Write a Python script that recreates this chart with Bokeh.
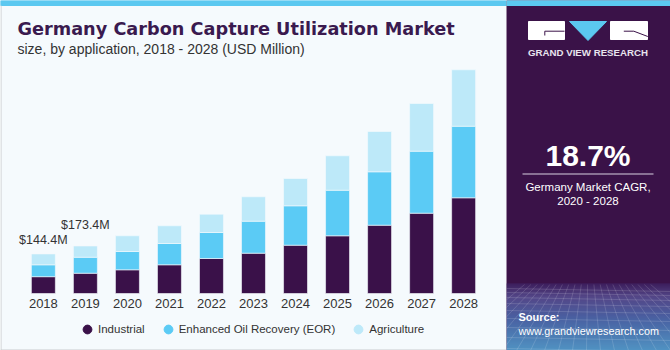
from bokeh.plotting import figure
from bokeh.layouts import row
from bokeh.models import (ColumnDataSource, FactorRange, Range1d, Legend, LegendItem,
                          LinearScale)
from bokeh.core.properties import value
from bokeh.embed import file_html
from bokeh.resources import INLINE

# ---------------- data ----------------
years = ["2018", "2019", "2020", "2021", "2022", "2023", "2024", "2025", "2026", "2027", "2028"]
industrial = [61.4, 74.0, 86.5, 104.8, 127.8, 147.1, 176.3, 210.6, 249.3, 293.1, 349.3]
eor = [43.3, 58.4, 66.8, 77.7, 94.9, 116.8, 143.8, 166.4, 194.9, 226.3, 261.3]
agriculture = [39.7, 41.0, 57.3, 64.6, 66.8, 89.1, 99.6, 125.6, 147.1, 174.1, 205.9]
series_labels = ["Industrial", "Enhanced Oil Recovery (EOR)", "Agriculture"]
label_years = ["2018", "2019"]
label_values = [144.4, 173.4]
cagr_text = "18.7%"
cagr_caption = ["Germany Market CAGR,", "2020 - 2028"]
title_text = "Germany Carbon Capture Utilization Market"
subtitle_text = "size, by application, 2018 - 2028 (USD Million)"

# ---------------- styles ----------------
COLORS = ["#3A1149", "#5BCBF5", "#BDE9F9"]
BG = "#F5FAFD"
PANEL = "#3A1248"
STRIPE = "#5BC8F0"
FONT = "Liberation Sans"
LEFT_W, RIGHT_W, H = 506, 164, 350
UNITS_PER_PX = 3.65
BASE_PX = 293  # baseline from top
PAD = 0.52     # categorical padding on each side (factor units)


def sx(px):
    """pixel position from the left edge -> synthetic categorical coordinate"""
    return px * (len(years) + 2 * PAD) / LEFT_W - PAD


# ---------------- left chart ----------------
p = figure(width=LEFT_W, height=H,
           x_range=FactorRange(*years, range_padding=PAD, range_padding_units="absolute"),
           y_range=Range1d(-(H - BASE_PX) * UNITS_PER_PX, BASE_PX * UNITS_PER_PX),
           output_backend="svg", toolbar_location=None,
           x_axis_location=None, y_axis_location=None,
           min_border=0, background_fill_color=BG, border_fill_color=BG,
           outline_line_color=None)
p.grid.visible = False
p.extra_y_ranges = {"px": Range1d(H, 0)}
p.extra_y_scales = {"px": LinearScale()}

src = ColumnDataSource(dict(year=years, industrial=industrial, eor=eor, agriculture=agriculture))
p.vbar_stack(["industrial", "eor", "agriculture"], x="year", width=0.57, color=COLORS,
             line_color=BG, line_width=0.6, source=src)

# year labels under bars
p.text(x=years, y=[0] * len(years), text=years, y_offset=9.8,
       text_align="center", text_baseline="middle",
       text_font=value(FONT), text_font_size="13px", text_color="#333333")

# value callouts
lab_src = ColumnDataSource(dict(x=label_years, y=label_values,
                                text=["$%.1fM" % v for v in label_values],
                                off=[-14.2, -21.3]))
p.text(x="x", y="y", text="text", y_offset="off", source=lab_src,
       text_align="center", text_baseline="middle",
       text_font=value(FONT), text_font_size="12.5px", text_color="#333333")

# top stripe and border
p.quad(left=[sx(0)], right=[sx(LEFT_W)], top=[0], bottom=[5], color=STRIPE,
       y_range_name="px")
p.segment(x0=[sx(0.5), sx(0)], y0=[5, H - 0.5], x1=[sx(0.5), sx(LEFT_W)], y1=[H, H - 0.5],
          line_color="#C9CCCE", line_width=1, y_range_name="px")

# titles
p.text(x=[sx(17)], y=[28.3], text=[title_text], text_baseline="middle",
       text_font=value("DejaVu Sans"), text_font_style="bold", text_font_size="17.7px",
       text_color="#3A1A4F", y_range_name="px")
p.text(x=[sx(17)], y=[48], text=[subtitle_text], text_baseline="middle",
       text_font=value(FONT), text_font_size="14px",
       text_color="#333333", y_range_name="px")

# legend (marker-only renderers, no visible points)
nan = float("nan")
dummies = [p.scatter(x=[years[0]], y=[nan], marker="circle", size=9, color=c) for c in COLORS]
legend = Legend(items=[LegendItem(label=l, renderers=[r]) for l, r in zip(series_labels, dummies)],
                orientation="horizontal", location=(76, 10),
                glyph_width=22, glyph_height=22, label_standoff=0, spacing=12,
                padding=0, margin=0, border_line_color=None, background_fill_alpha=0,
                label_text_font=FONT, label_text_font_size="11.5px", label_text_color="#333333")
p.add_layout(legend, "center")

# ---------------- right panel ----------------
q = figure(width=RIGHT_W, height=H, x_range=Range1d(0, RIGHT_W), y_range=Range1d(H, 0),
           output_backend="svg", toolbar_location=None,
           x_axis_location=None, y_axis_location=None,
           min_border=0, background_fill_color=PANEL, border_fill_color=PANEL,
           outline_line_color=None)
q.grid.visible = False

# bottom gradient (decoration)
stops = [(283, (62, 35, 100)), (296, (92, 88, 156)), (318, (79, 124, 192)), (350, (88, 190, 236))]
tops, bots, cols = [], [], []
for (ya, ca), (yb, cb) in zip(stops[:-1], stops[1:]):
    for yy in range(ya, yb):
        t = (yy - ya) / (yb - ya)
        c = tuple(int(round(ca[k] + (cb[k] - ca[k]) * t)) for k in range(3))
        tops.append(yy)
        bots.append(yy + 1.05)
        cols.append("#%02x%02x%02x" % c)
q.quad(left=0, right=RIGHT_W, top=tops, bottom=bots, fill_color=cols, line_color=None)

# perspective grid (decoration)
hy = [288, 292, 297, 303, 310, 318, 327, 337, 348]
q.segment(x0=[0] * len(hy), x1=[RIGHT_W] * len(hy), y0=hy, y1=[h + 3 for h in hy],
          line_color="white", line_alpha=0.18, line_width=0.8)
vx = list(range(-60, 230, 14))
q.segment(x0=[82 + (v - 82) * 0.45 for v in vx], y0=[284] * len(vx), x1=vx, y1=[350] * len(vx),
          line_color="white", line_alpha=0.18, line_width=0.8)

# top stripe
q.quad(left=[0], right=[RIGHT_W], top=[0], bottom=[5], color=STRIPE)

# logo
q.quad(left=[22, 104], right=[58, 141], top=[21, 21], bottom=[39, 39], color="white")
q.patch(x=[63, 100, 81.5], y=[21, 21, 40], color=STRIPE)
q.multi_line(xs=[[38.3, 58], [38.3, 38.3], [117.3, 127.3, 141.3]],
             ys=[[30.7, 30.7], [30.7, 35], [30.7, 30.7, 36]],
             line_color=PANEL, line_width=1)
q.text(x=[81.5], y=[51.8], text=["GRAND VIEW RESEARCH"], text_align="center",
       text_baseline="middle", text_font=value(FONT), text_font_style="bold",
       text_font_size="9.7px", text_color="#E8E4EE")

# CAGR
q.text(x=[81.5], y=[154.5], text=[cagr_text], text_align="center", text_baseline="middle",
       text_font=value(FONT), text_font_style="bold", text_font_size="30px", text_color="white")
q.segment(x0=[16], y0=[173.5], x1=[147], y1=[173.5], line_color="#D8D0E0", line_width=1)
q.text(x=[81.5, 81.5], y=[186, 200.3], text=cagr_caption, text_align="center",
       text_baseline="middle", text_font=value(FONT), text_font_size="11.5px",
       text_color="white")

# source
q.text(x=[12], y=[316], text=["Source:"], text_baseline="middle",
       text_font=value(FONT), text_font_style="bold", text_font_size="11px", text_color="white")
q.text(x=[12], y=[330], text=["www.grandviewresearch.com"], text_baseline="middle",
       text_font=value(FONT), text_font_size="10.8px", text_color="white")

layout = row(p, q)
open("out.html", "w").write(file_html(layout, INLINE))
